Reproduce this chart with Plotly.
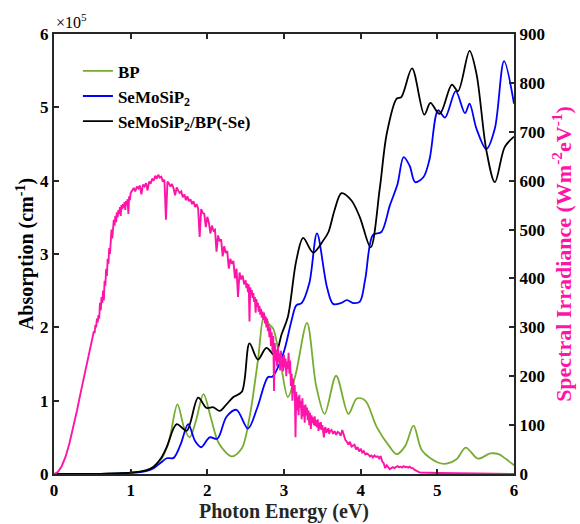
import plotly.graph_objects as go

# ---------------- data ----------------
green_E = [0, 0.5, 1.0, 1.2, 1.3, 1.4, 1.5, 1.61, 1.70, 1.77, 1.85, 1.95, 2.05, 2.15, 2.32, 2.45, 2.55, 2.66,
           2.74, 2.80, 2.86, 2.95, 3.05, 3.15, 3.30, 3.42, 3.53, 3.68, 3.84, 3.95, 4.06, 4.21, 4.38, 4.47, 4.58,
           4.69, 4.80, 5.0, 5.12, 5.25, 5.37, 5.53, 5.69, 5.80, 5.90, 6.0]
green_A = [0, 0.002, 0.02, 0.05, 0.1, 0.2, 0.45, 0.95, 0.62, 0.50, 0.72, 1.09, 0.75, 0.42, 0.24, 0.35, 0.77, 1.55,
           2.16, 2.05, 1.98, 1.55, 1.05, 1.35, 2.06, 1.2, 0.82, 1.34, 0.82, 1.03, 1.00, 0.64, 0.37, 0.27, 0.38,
           0.66, 0.32, 0.16, 0.14, 0.2, 0.36, 0.21, 0.28, 0.27, 0.2, 0.12]

blue_E = [0, 0.5, 1.0, 1.2, 1.3, 1.4, 1.47, 1.56, 1.65, 1.75, 1.84, 1.92, 2.03, 2.13, 2.25, 2.38, 2.53, 2.65,
          2.79, 2.85, 2.99, 3.10, 3.16, 3.23, 3.33, 3.43, 3.56, 3.64, 3.74, 3.82, 3.91, 3.99, 4.06, 4.16, 4.27,
          4.38, 4.48, 4.56, 4.64, 4.71, 4.82, 4.90, 5.01, 5.10, 5.24, 5.36, 5.42, 5.51, 5.64, 5.75, 5.87, 6.0]
blue_A = [0, 0.001, 0.015, 0.04, 0.08, 0.16, 0.215, 0.22, 0.4, 0.68, 0.45, 0.365, 0.5, 0.48, 0.78, 0.875, 0.62, 0.9,
          1.32, 1.33, 1.64, 2.1, 2.3, 2.33, 2.6, 3.28, 2.55, 2.32, 2.33, 2.37, 2.33, 2.35, 2.66, 3.26, 3.30,
          3.66, 3.95, 4.32, 4.2, 3.98, 4.05, 4.3, 4.96, 4.86, 5.22, 4.92, 5.05, 4.71, 4.43, 4.71, 5.63, 5.05]

black_E = [0, 0.5, 1.0, 1.2, 1.3, 1.4, 1.47, 1.60, 1.73, 1.88, 1.99, 2.08, 2.16, 2.25, 2.34, 2.45, 2.55, 2.66,
           2.77, 2.88, 2.97, 3.05, 3.16, 3.25, 3.38, 3.51, 3.58, 3.66, 3.75, 3.88, 3.99, 4.13, 4.25, 4.34, 4.47,
           4.53, 4.67, 4.83, 4.91, 5.03, 5.19, 5.27, 5.42, 5.51, 5.64, 5.75, 5.88, 6.0]
black_A = [0, 0.002, 0.02, 0.05, 0.1, 0.22, 0.365, 0.68, 0.59, 1.04, 0.90, 0.91, 0.86, 0.95, 1.05, 1.12, 1.78, 1.56,
           1.72, 1.62, 1.91, 2.14, 2.91, 3.22, 3.02, 3.18, 3.30, 3.60, 3.83, 3.73, 3.50, 3.09, 3.9, 4.64, 5.12,
           5.14, 5.53, 4.90, 5.06, 4.91, 5.31, 5.22, 5.77, 5.46, 4.41, 3.98, 4.46, 4.60]

# solar spectral irradiance, read segment by segment (energy grid: start, step, values)
sun_seg1_I = [0, 4, 16, 35, 62, 95, 130, 168, 205, 245, 280]                      # 0.00..0.50 step 0.05
sun_seg2_I = [284, 292, 288, 305, 300, 318, 310, 325, 318, 350,
              335, 362, 350, 375, 355, 395, 385, 420, 405, 440,
              430, 462, 450, 490, 500, 482, 515, 520, 508, 528,
              515, 535, 525, 540, 532, 546, 528, 550, 542, 552,
              545, 556, 540, 558, 550, 562, 532, 568, 560, 575]                    # 0.51..1.00 step 0.01
sun_seg3_I = [580, 585, 578, 588, 584, 590, 572, 592, 588, 595,
              580, 598, 594, 604, 600, 610, 604, 612, 606, 608,
              598, 602, 520, 598, 594, 588, 593, 584, 570, 586,
              580, 575, 578, 566, 572, 560, 568, 558, 562, 552,
              558, 546, 552, 543, 485, 542, 534, 532, 505, 526,
              514, 492, 508, 498, 500, 455, 488, 476, 480, 445,
              466, 452, 456, 420, 440, 430, 436, 400, 420, 362,
              412, 398, 406, 388, 396]                                             # 1.02..2.50 step 0.02
sun_seg4_I = [380, 390, 372, 388, 312, 382, 366, 376, 360, 370,
              352, 362, 330, 358, 342, 350, 332, 344, 326, 338,
              320, 332, 315, 330, 308, 322, 300, 318, 292, 306,
              280, 300, 262, 290, 250, 282, 170, 268, 232, 252,
              220, 262, 228, 246, 212, 252, 220, 240, 210, 244,
              218, 236, 200, 230, 215, 248, 205, 232, 180, 205,
              150, 195, 165, 182, 75, 168, 130, 158, 120, 162,
              135, 150, 112, 155, 118, 140, 105, 142, 120, 136,
              110, 130, 100, 125, 92, 120, 104, 116, 100, 118,
              98, 110, 96, 112, 88, 105, 92, 106, 90, 100,
              86, 75, 92, 96, 84, 92, 86, 94, 82, 88]                              # 2.51..3.60 step 0.01
sun_seg5_I = [90, 82, 88, 80, 86, 84, 78, 90, 80, 70,
              66, 60, 66, 56, 58, 60, 50, 55, 46, 52,
              44, 47, 40, 42, 40, 36, 38, 34, 38, 35,
              36, 32, 37, 26, 22, 12, 18, 14, 10, 12,
              14, 12, 15, 16, 14, 15, 13, 16, 14, 15,
              13, 15, 12, 12, 9, 7, 5, 4, 3, 3]                                    # 3.62..4.80 step 0.02
sun_tail_E = [4.90, 5.00, 5.50, 6.00]
sun_tail_I = [2, 2, 1, 0]

segments = [(0.00, 0.05, sun_seg1_I), (0.51, 0.01, sun_seg2_I), (1.02, 0.02, sun_seg3_I),
            (2.51, 0.01, sun_seg4_I), (3.62, 0.02, sun_seg5_I)]
sun_E, sun_I = [], []
for start, step, vals in segments:
    sun_E += [round(start + step * i, 2) for i in range(len(vals))]
    sun_I += vals
sun_E += sun_tail_E
sun_I += sun_tail_I

x_ticks = [0, 1, 2, 3, 4, 5, 6]
y_ticks = [0, 1, 2, 3, 4, 5, 6]
y2_ticks = [0, 100, 200, 300, 400, 500, 600, 700, 800, 900]

FONT = "Liberation Serif"
PINK = "#ff14a8"
AX = "#262626"

fig = go.Figure()
fig.add_trace(go.Scatter(x=green_E, y=green_A, mode="lines", name="<b>BP</b>",
                         line=dict(color="#77ac30", width=1.8, shape="spline", smoothing=0.9)))
fig.add_trace(go.Scatter(x=blue_E, y=blue_A, mode="lines", name="<b>SeMoSiP<sub>2</sub></b>",
                         line=dict(color="#0000ff", width=1.8, shape="spline", smoothing=0.9)))
fig.add_trace(go.Scatter(x=black_E, y=black_A, mode="lines", name="<b>SeMoSiP<sub>2</sub>/BP(-Se)</b>",
                         line=dict(color="#000000", width=1.8, shape="spline", smoothing=0.9)))
fig.add_trace(go.Scatter(x=sun_E, y=sun_I, mode="lines", yaxis="y2", showlegend=False,
                         line=dict(color=PINK, width=1.9)))

axis_common = dict(showline=True, linecolor=AX, linewidth=2, ticks="inside", ticklen=5,
                   tickwidth=2, tickcolor=AX, showgrid=False, zeroline=False,
                   tickfont=dict(family=FONT, size=17, color="#000000"))

fig.update_layout(
    width=580, height=524,
    margin=dict(l=54, r=66, t=34, b=50, autoexpand=False),
    plot_bgcolor="white", paper_bgcolor="white",
    font=dict(family=FONT, color="#000000"),
    xaxis=dict(range=[0, 6], tickvals=x_ticks, ticktext=[f"<b>{v}</b>" for v in x_ticks],
               mirror="ticks",
               title=dict(text="<b>Photon Energy (eV)</b>", font=dict(family=FONT, size=20, color=AX),
                          standoff=4),
               **axis_common),
    yaxis=dict(range=[0, 6], tickvals=y_ticks, ticktext=[f"<b>{v}</b>" for v in y_ticks],
               title=dict(text="<b>Absorption (cm<sup>-1</sup>)</b>", font=dict(family=FONT, size=20),
                          standoff=1),
               **axis_common),
    yaxis2=dict(range=[0, 900], tickvals=y2_ticks, ticktext=[f"<b>{v}</b>" for v in y2_ticks],
                overlaying="y", side="right",
                title=dict(text="<b>Spectral Irradiance (Wm<sup>-2</sup>eV<sup>-1</sup>)</b>",
                           font=dict(family=FONT, size=22, color=PINK), standoff=12),
                **axis_common),
    legend=dict(x=0.052, y=0.956, xanchor="left", yanchor="top", bgcolor="rgba(0,0,0,0)",
                font=dict(family=FONT, size=17, color="#000000"), tracegroupgap=0, itemwidth=30),
    annotations=[dict(text="×10<sup>5</sup>", xref="paper", yref="paper", x=0.0, y=1.0,
                      xanchor="left", yanchor="bottom", showarrow=False, yshift=1,
                      font=dict(family=FONT, size=16, color="#000000"))],
)

fig.write_html("out.html", config={"displayModeBar": False},
               post_script="document.body.style.margin='0px';")
